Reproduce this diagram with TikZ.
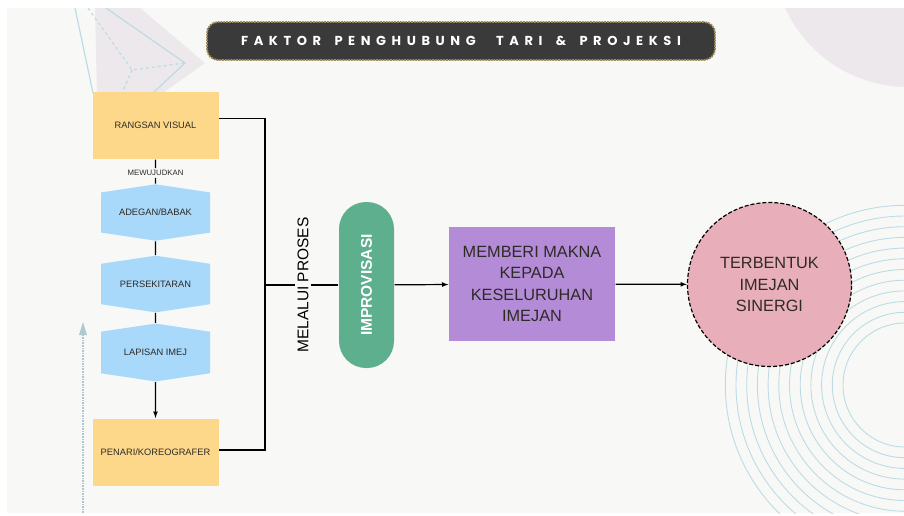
\documentclass[tikz,border=0pt]{standalone}
\usepackage{fontspec}
\setmainfont{Liberation Sans}
\newfontfamily\titlefont{Poppins}[LetterSpace=43]
\usetikzlibrary{shapes.symbols}

\definecolor{latar}{HTML}{F8F8F6}
\definecolor{kuning}{HTML}{FDD88A}
\definecolor{biru}{HTML}{A8D8FA}
\definecolor{hijau}{HTML}{5EAF8E}
\definecolor{ungu}{HTML}{B48BD7}
\definecolor{merahjambu}{HTML}{E8AFBA}
\definecolor{lavender}{HTML}{EDE8EC}
\definecolor{garisbiru}{HTML}{BCDCE4}
\definecolor{gelap}{HTML}{3A3A3A}
\definecolor{emas}{HTML}{A08A55}
\definecolor{teks}{HTML}{2E2A26}

\begin{document}
\begin{tikzpicture}[x=1pt,y=-1pt,line width=1.2pt,
	kotak/.style={rectangle,fill=kuning,minimum width=126pt,minimum height=67pt,text=teks,font=\fontsize{9.3}{11}\selectfont},
	heks/.style={shape=signal,signal to=north and south,signal pointer angle=163,fill=biru,minimum width=109pt,minimum height=51pt,inner sep=0pt,text=teks,font=\fontsize{9.3}{11}\selectfont},
	besar/.style={align=center,text=teks,font=\fontsize{16.3}{21.3}\selectfont}]
	% 画背景,外面留白边
	\fill[white] (0,0) rectangle (904,515);
	\fill[latar] (7,8) rectangle (904,513);
	\begin{scope}
		\clip (7,8) rectangle (904,513);
		% 左上角的风筝形装饰
		\fill[lavender] (95,8) -- (140,8) -- (205,63) -- (160,95) -- (97,95) -- cycle;
		\draw[garisbiru] (75,8) -- (93,93);
		\draw[garisbiru] (106,8) -- (185,63) -- (153,93);
		\draw[garisbiru,dashed] (88,8) -- (132,70) -- (185,63) (132,70) -- (122,93);
		% 右上角的大圆
		\fill[lavender] (908,-48) circle (135);
		% 右下角的同心圆
		\foreach \r in {0,...,11}
			\draw[garisbiru,line width=0.9pt] (905,385) circle ({62+10.7*\r});
	\end{scope}
	% 左下角的虚线箭头
	\draw[garisbiru!80!gray,densely dotted,line width=1.6pt] (83,513) -- (83,334);
	\fill[garisbiru!80!gray] (83,322) -- (79,335) -- (87,335) -- cycle;
	
	% 标题
	\node[rectangle,rounded corners=11pt,fill=gelap,draw=emas,densely dotted,line width=1.8pt,minimum width=508pt,minimum height=38pt,text=white,font=\titlefont\bfseries\fontsize{13}{15}\selectfont] (judul) at (461,41) {FAKTOR\hspace{5pt} PENGHUBUNG\hspace{12pt} TARI\hspace{5pt} \&\hspace{5pt} PROJEKSI};
	
	% 左边一列
	\node[kotak] (rv) at (155.5,125.5) {RANGSAN VISUAL};
	\node[fill=latar,inner sep=1.5pt,text=teks,font=\fontsize{7.8}{9}\selectfont] (mw) at (155.5,173) {MEWUJUDKAN};
	\node[heks] (adegan) at (155.5,212.5) {ADEGAN/BABAK};
	\node[heks] (sekitar) at (155.5,284) {PERSEKITARAN};
	\node[heks] (lapisan) at (155.5,352.5) {LAPISAN IMEJ};
	\node[kotak] (penari) at (155.5,452) {PENARI/KOREOGRAFER};
	\draw (rv) -- (mw) -- (adegan);
	\draw (adegan) -- (sekitar);
	\draw (sekitar) -- (lapisan);
	\draw[-latex] (lapisan) -- (penari);
	
	% 括号线,汇合到中间
	\coordinate (j) at (265,285);
	\draw ([yshift=7pt]rv.east) -| (j) |- ([yshift=2pt]penari.east);
	
	% 中间和右边
	\node[rotate=90,fill=latar,inner sep=2pt,font=\fontsize{15.5}{18}\selectfont] (proses) at (303,285) {MELALUI PROSES};
	\node[rectangle,rounded corners=27pt,fill=hijau,rotate=90,minimum width=166pt,minimum height=55pt,text=white,font=\bfseries\fontsize{15.5}{18}\selectfont] (improv) at (366.5,285) {IMPROVISASI};
	\node[rectangle,fill=ungu,minimum width=166pt,minimum height=114pt,besar] (makna) at (532,284) {MEMBERI MAKNA\\KEPADA\\KESELURUHAN\\IMEJAN};
	\node[circle,fill=merahjambu,draw=black,dash pattern=on 4pt off 2pt,minimum size=164pt,besar] (sinergi) at (769.5,284.5) {TERBENTUK\\IMEJAN\\SINERGI};
	\draw (j) -- (proses) -- (improv);
	\draw[-latex] (improv) -- (makna);
	\draw[-latex] (makna) -- (sinergi);
\end{tikzpicture}
\end{document}
